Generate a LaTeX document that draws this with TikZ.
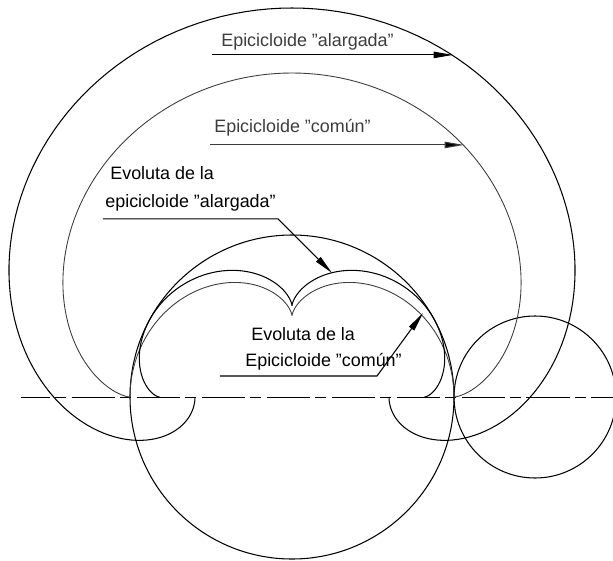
\documentclass[tikz,border=0pt]{standalone}
\usepackage{fontspec}
\setmainfont{Liberation Sans}
\usepackage{xcolor}
\usepackage{tikz}
\usetikzlibrary{arrows.meta}
\definecolor{ink}{HTML}{000000}
\definecolor{soft}{HTML}{3C3C3C}
\tikzset{
  base/.style={draw=ink, line width=0.6pt},
  thin curve/.style={draw=soft, line width=0.5pt},
  axis/.style={draw=ink, line width=0.55pt, dash pattern=on 24.75pt off 2.85pt on 6.25pt off 3.13pt, dash phase=8.1pt},
  lead/.style={draw=ink, line width=0.6pt, -{Triangle[length=11pt,width=3.6pt]}},
  leads/.style={draw=soft, line width=0.6pt, -{Triangle[length=11pt,width=3.6pt,fill=ink]}},
  lab/.style={text=ink, anchor=base west, inner sep=0pt, font=\fontsize{10.2}{12}\selectfont},
  labm/.style={text=soft, anchor=base west, inner sep=0pt, font=\fontsize{10.2}{12}\selectfont},
  declare function={
    rhoL(\t,\e)=(1+9*\e*\e-6*\e*cos(2*\t))/(1+27*\e*\e-12*\e*cos(2*\t));
  },
}
\begin{document}
\begin{tikzpicture}[scale=0.02]
  \useasboundingbox (-292,-163) rectangle (321,397);
  \def\rO{162}
  \def\rA{81}
  \def\dA{146}
  \coordinate (O) at (0,0);
  \coordinate (C) at (243,0);
  \coordinate (axisL) at (-271,0);
  \coordinate (axisR) at (321,0);

  % circles and axis
  \draw[base] (O) circle (\rO);
  \draw[base] (C) circle (\rA);
  \draw[axis] (axisL)--(axisR);

  % epicycloids
  \draw[thin curve] plot[domain=0:180,samples=181] ({243*cos(\x)-\rA*cos(3*\x)},{243*sin(\x)-\rA*sin(3*\x)});
  \draw[base] plot[domain=0:180,samples=181] ({243*cos(\x)-\dA*cos(3*\x)},{243*sin(\x)-\dA*sin(3*\x)});

  % evolutes
  \draw[thin curve] plot[domain=0:180,samples=181] ({121.5*cos(\x)+40.5*cos(3*\x)},{121.5*sin(\x)+40.5*sin(3*\x)});
  \draw[base] plot[domain=0:180,samples=181]
    ({243*cos(\x)-\dA*cos(3*\x)-(243*cos(\x)-3*\dA*cos(3*\x))*rhoL(\x,0.6008)},
     {243*sin(\x)-\dA*sin(3*\x)+(-243*sin(\x)+3*\dA*sin(3*\x))*rhoL(\x,0.6008)});

  % labels
  \node[labm] (epiA) at (-71,350) {Epicicloide "alargada"};
  \node[labm] (epiC) at (-78,265) {Epicicloide "común"};
  \node[lab] (evoA1) at (-182,218) {Evoluta de la};
  \node[lab] (evoA2) at (-187,190) {epicicloide "alargada"};
  \node[lab] (evoC1) at (-41,57) {Evoluta de la};
  \node[lab] (evoC2) at (-47,31) {Epicicloide "común"};

  % leaders
  \coordinate (a1) at (-80,342);
  \coordinate (a2) at (161,342);
  \coordinate (b1) at (-82,252);
  \coordinate (b2) at (172,252);
  \coordinate (c1) at (-189,178);
  \coordinate (c2) at (-14,178);
  \coordinate (c3) at (40,124);
  \coordinate (d1) at (-72,21);
  \coordinate (d2) at (85,21);
  \coordinate (d3) at (131,84);
  \draw[lead] (a1)--(a2);
  \draw[leads] (b1)--(b2);
  \draw[lead] (c1)--(c2)--(c3);
  \draw[lead] (d1)--(d2)--(d3);
\end{tikzpicture}
\end{document}
